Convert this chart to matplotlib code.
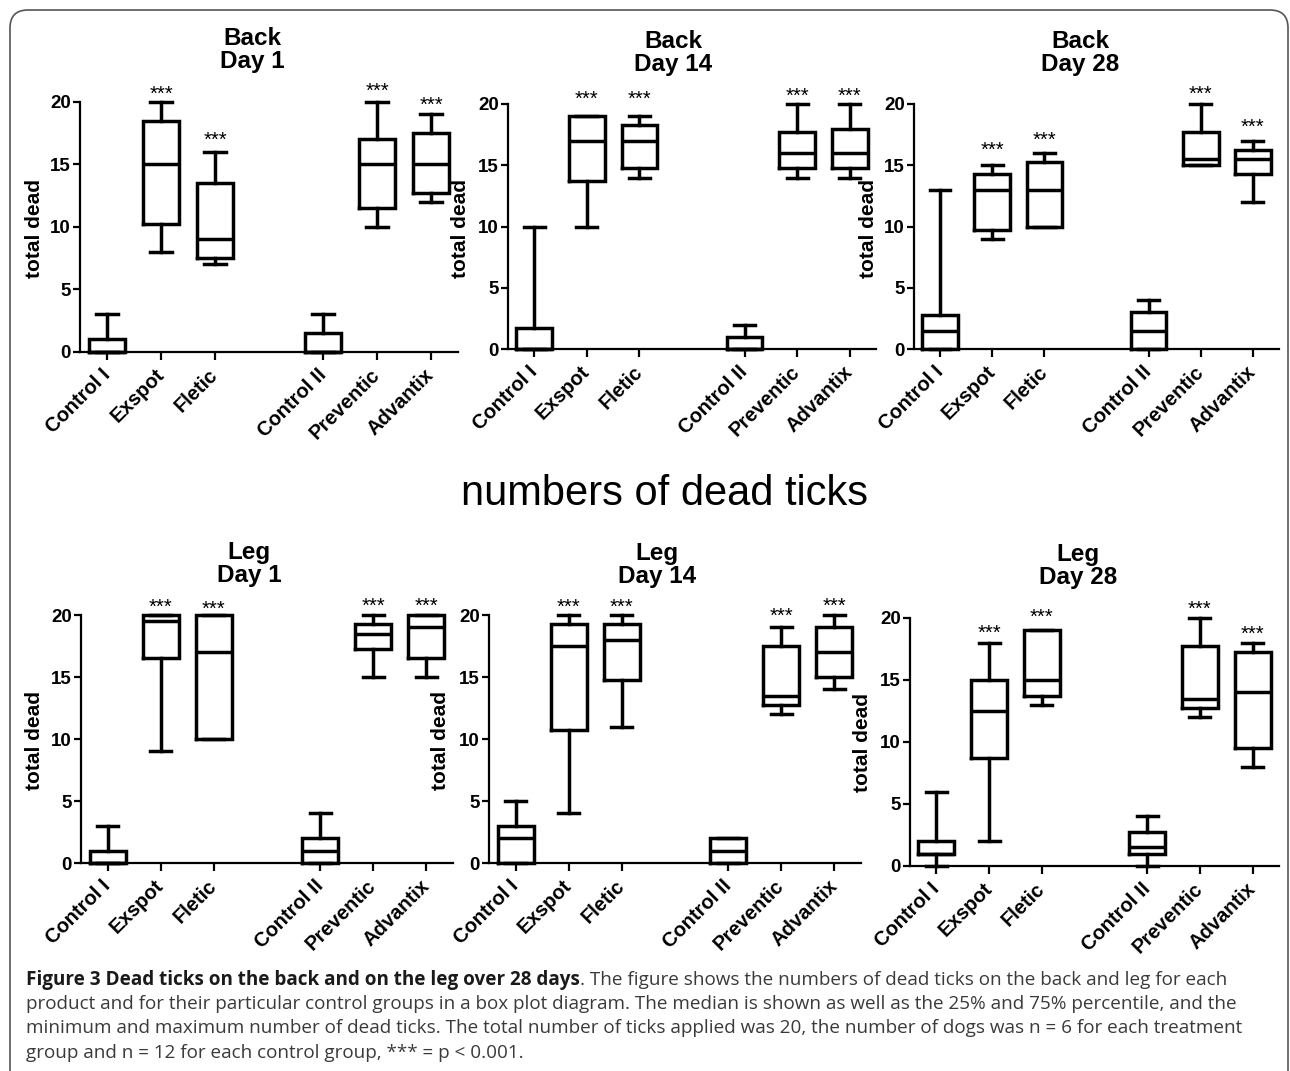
import matplotlib
matplotlib.use("Agg")
import matplotlib.pyplot as plt
from matplotlib.patches import FancyBboxPatch
from matplotlib.transforms import IdentityTransform

plt.rcParams['font.family'] = ['Liberation Sans', 'DejaVu Sans']

W, H = 1290, 1071

# ---------------- data ----------------
categories = ["Control I", "Exspot", "Fletic", "Control II", "Preventic", "Advantix"]
positions = [0, 1, 2, 4, 5, 6]
yticks = [0, 5, 10, 15, 20]

# each group: [min, q1, median, q3, max]
back_day1 = [[0, 0, 0, 1, 3], [8, 10.25, 15, 18.5, 20], [7, 7.5, 9, 13.5, 16],
             [0, 0, 0, 1.5, 3], [10, 11.5, 15, 17, 20], [12, 12.75, 15, 17.5, 19]]
back_day14 = [[0, 0, 0, 1.75, 10], [10, 13.75, 17, 19, 19], [14, 14.75, 17, 18.25, 19],
              [0, 0, 0, 1, 2], [14, 14.75, 16, 17.75, 20], [14, 14.75, 16, 18, 20]]
back_day28 = [[0, 0, 1.5, 2.75, 13], [9, 9.75, 13, 14.25, 15], [10, 10, 13, 15.25, 16],
              [0, 0, 1.5, 3, 4], [15, 15, 15.5, 17.75, 20], [12, 14.25, 15.5, 16.25, 17]]
leg_day1 = [[0, 0, 0, 1, 3], [9, 16.5, 19.5, 20, 20], [10, 10, 17, 20, 20],
            [0, 0, 1, 2, 4], [15, 17.25, 18.5, 19.25, 20], [15, 16.5, 19, 20, 20]]
leg_day14 = [[0, 0, 2, 3, 5], [4, 10.75, 17.5, 19.25, 20], [11, 14.75, 18, 19.25, 20],
             [0, 0, 1, 2, 2], [12, 12.75, 13.5, 17.5, 19], [14, 15, 17, 19, 20]]
leg_day28 = [[0, 1, 1, 2, 6], [2, 8.75, 12.5, 15, 18], [13, 13.75, 15, 19, 19],
             [0, 1, 1.5, 2.75, 4], [12, 12.75, 13.5, 17.75, 20], [8, 9.5, 14, 17.25, 18]]

# height (data units) of the "***" marks, None = no mark
stars_back_day1 = [None, 21.1, 17.4, None, 21.3, 20.2]
stars_back_day14 = [None, 20.9, 20.9, None, 21.1, 21.1]
stars_back_day28 = [None, 16.7, 17.55, None, 21.25, 18.6]
stars_leg_day1 = [None, 21.1, 20.9, None, 21.15, 21.15]
stars_leg_day14 = [None, 21.1, 21.1, None, 20.35, 21.2]
stars_leg_day28 = [None, 19.27, 20.56, None, 21.15, 19.2]

titles = ["Back\nDay 1", "Back\nDay 14", "Back\nDay 28",
          "Leg\nDay 1", "Leg\nDay 14", "Leg\nDay 28"]
ylabel = "total dead"
middle_title = "numbers of dead ticks"

cap_bold = "Figure 3 Dead ticks on the back and on the leg over 28 days"
cap_rest1 = ". The figure shows the numbers of dead ticks on the back and leg for each"
cap_lines = [
    "product and for their particular control groups in a box plot diagram. The median is shown as well as the 25% and 75% percentile, and the",
    "minimum and maximum number of dead ticks. The total number of ticks applied was 20, the number of dogs was n = 6 for each treatment",
    "group and n = 12 for each control group, *** = p < 0.001.",
]

# ---------------- layout (pixels) ----------------
panels = [
    dict(data=back_day1, stars=stars_back_day1, box=(80, 458, 352, 102), title=(252, 50), ylab=(35, 228)),
    dict(data=back_day14, stars=stars_back_day14, box=(508, 876, 349, 104), title=(673, 53), ylab=(461, 228)),
    dict(data=back_day28, stars=stars_back_day28, box=(914, 1279, 349, 104), title=(1080, 53), ylab=(868, 228)),
    dict(data=leg_day1, stars=stars_leg_day1, box=(81, 453, 863, 615), title=(249, 564), ylab=(35, 740)),
    dict(data=leg_day14, stars=stars_leg_day14, box=(489, 861, 863, 615), title=(657, 565), ylab=(441, 740)),
    dict(data=leg_day28, stars=stars_leg_day28, box=(910, 1279, 866, 618), title=(1078, 566), ylab=(863, 742)),
]

fig = plt.figure(figsize=(W / 100, H / 100), dpi=100)
fig.patch.set_facecolor('white')

LW = 2.5
for i, p in enumerate(panels):
    L, R, y0, y20 = p['box']
    ax = fig.add_axes([L / W, 1 - y0 / H, (R - L) / W, (y0 - y20) / H])
    stats = [dict(whislo=g[0], q1=g[1], med=g[2], q3=g[3], whishi=g[4], fliers=[])
             for g in p['data']]
    lp = dict(color='black', linewidth=LW, solid_joinstyle='miter', solid_capstyle='projecting')
    art = ax.bxp(stats, positions=positions, widths=0.68, capwidths=0.4, showfliers=False,
                 boxprops=lp, medianprops=dict(color='black', linewidth=LW),
                 whiskerprops=dict(color='black', linewidth=LW),
                 capprops=dict(color='black', linewidth=LW), manage_ticks=False)
    for k in art:
        for a in art[k]:
            a.set_clip_on(False)
    ax.set_xlim(-0.5, 6.5)
    ax.set_ylim(0, 20)
    ax.set_yticks(yticks)
    ax.set_yticklabels([str(t) for t in yticks], fontsize=13.5, fontweight='bold')
    ax.set_xticks(positions)
    ax.set_xticklabels(categories, fontsize=14.5, fontweight='bold', rotation=45,
                       ha='right', va='center', rotation_mode='anchor')
    ax.tick_params(axis='y', length=5, width=1.6, pad=1.5)
    ax.tick_params(axis='x', length=5.5, width=1.6, pad=9)
    for s in ['top', 'right']:
        ax.spines[s].set_visible(False)
    for s in ['left', 'bottom']:
        ax.spines[s].set_linewidth(1.6)
    ax.set_facecolor('none')
    fs_star = 14.5
    for pos, sy in zip(positions, p['stars']):
        if sy is None:
            continue
        ax.annotate("***", (pos, sy), xytext=(0, -0.57 * fs_star), textcoords='offset points',
                    ha='center', va='baseline', fontsize=fs_star, annotation_clip=False)
    tx, ty = p['title']
    fig.text(tx / W, 1 - ty / H, titles[i], ha='center', va='center', fontsize=17.5,
             fontweight='bold', linespacing=1.05)
    lx, ly = p['ylab']
    fig.text(lx / W, 1 - ly / H, ylabel, ha='center', va='center', rotation=90,
             fontsize=15, fontweight='bold')

# middle heading
fig.text(664 / W, 1 - 505 / H, middle_title, ha='center', va='baseline', fontsize=30)

# caption
cap_family = ['Open Sans', 'DejaVu Sans']
x0 = 26
targets = [1251, 1209, 1221]
base = [985, 1009, 1033, 1058]
r = fig.canvas.get_renderer()
tb = fig.text(x0 / W, 1 - base[0] / H, cap_bold, fontsize=12, fontweight='bold',
              family=cap_family, color='#1a1a1a', va='baseline')
tr = fig.text(0, 1 - base[0] / H, cap_rest1, fontsize=12, family=cap_family,
              color='#3a3a3a', va='baseline')
others = [fig.text(x0 / W, 1 - b / H, line, fontsize=12, family=cap_family, color='#3a3a3a',
                   va='baseline') for line, b in zip(cap_lines, base[1:])]
widths = [tb.get_window_extent(r).width + tr.get_window_extent(r).width,
          others[0].get_window_extent(r).width, others[1].get_window_extent(r).width]
fs = min(12 * t / w for t, w in zip(targets, widths))
for t in [tb, tr] + others:
    t.set_fontsize(fs)
wb = tb.get_window_extent(r).width
tr.set_x((x0 + wb) / W)

# rounded border
border = FancyBboxPatch((10, -40), 1278, H - 10 + 40, boxstyle="round,pad=0,rounding_size=18",
                        transform=IdentityTransform(), facecolor='none', edgecolor='#555555',
                        linewidth=1.2)
fig.add_artist(border)

fig.savefig("out.png", dpi=100)
